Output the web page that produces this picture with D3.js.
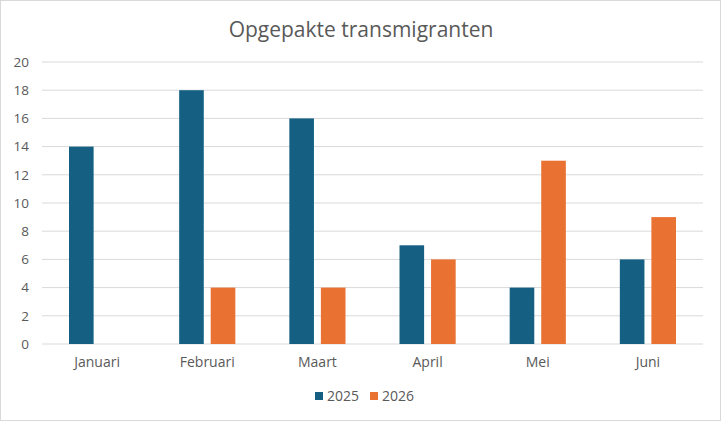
<!DOCTYPE html>
<html>
<head>
<meta charset="utf-8">
<script src="https://cdn.jsdelivr.net/npm/d3@7"></script>
<style>
  body { margin: 0; background: #fff; }
  text { font-family: "Open Sans", "Liberation Sans", sans-serif; fill: #595959; }
</style>
</head>
<body>
<div id="chart"></div>
<script>
// Data
const maanden = ["Januari", "Februari", "Maart", "April", "Mei", "Juni"];
const jaren = ["2025", "2026"];
const waarden2025 = [14, 18, 16, 7, 4, 6];
const waarden2026 = [null, 4, 4, 6, 13, 9];
const yTicks = [0, 2, 4, 6, 8, 10, 12, 14, 16, 18, 20];

const colors = { "2025": "#156082", "2026": "#E97132" };

var W = 722, H = 422;
var margin = { top: 62, right: 19, bottom: 78, left: 42 },
    width = W - margin.left - margin.right,
    height = H - margin.top - margin.bottom;

var root = d3.select("#chart").append("svg")
    .attr("width", W)
    .attr("height", H);

// Chart border
root.append("rect")
    .attr("x", 0.5).attr("y", 0.5)
    .attr("width", W - 2).attr("height", H - 2)
    .attr("fill", "#fff")
    .attr("stroke", "#d9d9d9");

// Title
root.append("text")
    .attr("x", 361)
    .attr("y", 37)
    .attr("text-anchor", "middle")
    .style("font-size", "21px")
    .text("Opgepakte transmigranten");

var svg = root.append("g")
    .attr("transform", "translate(" + margin.left + "," + margin.top + ")");

var x = d3.scaleBand()
    .domain(maanden)
    .range([0, width]);

var x1 = d3.scaleBand()
    .domain(jaren)
    .range([27, x.bandwidth() - 27])
    .paddingInner(0.22);

var y = d3.scaleLinear()
    .domain([0, 20])
    .range([height, 0]);

// Gridlines
svg.append("g")
    .selectAll("line")
    .data(yTicks)
    .enter()
    .append("line")
    .attr("x1", 0)
    .attr("x2", width)
    .attr("y1", d => y(d))
    .attr("y2", d => y(d))
    .attr("stroke", "#d9d9d9")
    .attr("stroke-width", 1);

// Y axis labels
var yAxis = svg.append("g")
    .call(d3.axisLeft(y).tickValues(yTicks).tickSize(0).tickPadding(13));
yAxis.select(".domain").remove();
yAxis.selectAll("text")
    .style("font-size", "13.5px")
    .style("fill", "#595959")
    .style("font-family", "'Open Sans', sans-serif");

// X axis labels
var xAxis = svg.append("g")
    .attr("transform", "translate(0," + height + ")")
    .call(d3.axisBottom(x).tickSize(0).tickPadding(13));
xAxis.select(".domain").remove();
xAxis.selectAll("text")
    .style("font-size", "14px")
    .style("fill", "#595959")
    .style("font-family", "'Open Sans', sans-serif");

// Bars
var rows = maanden.map((m, i) => ({
    maand: m,
    vals: [
        { jaar: "2025", v: waarden2025[i] },
        { jaar: "2026", v: waarden2026[i] }
    ]
}));

svg.append("g")
    .selectAll("g")
    .data(rows)
    .enter()
    .append("g")
    .attr("transform", d => "translate(" + x(d.maand) + ",0)")
    .selectAll("rect")
    .data(d => d.vals.filter(e => e.v != null))
    .enter()
    .append("rect")
    .attr("x", d => x1(d.jaar))
    .attr("y", d => y(d.v))
    .attr("width", x1.bandwidth())
    .attr("height", d => height - y(d.v))
    .attr("fill", d => colors[d.jaar]);

// Legend
var legend = root.append("g")
    .attr("transform", "translate(315,396)");

var item = legend.selectAll("g")
    .data(jaren)
    .enter()
    .append("g")
    .attr("transform", (d, i) => "translate(" + (i * 55) + ",0)");

item.append("rect")
    .attr("x", 0)
    .attr("y", -4)
    .attr("width", 8)
    .attr("height", 8)
    .attr("fill", d => colors[d]);

item.append("text")
    .attr("x", 12)
    .attr("y", 5)
    .style("font-size", "14px")
    .text(d => d);
</script>
</body>
</html>
